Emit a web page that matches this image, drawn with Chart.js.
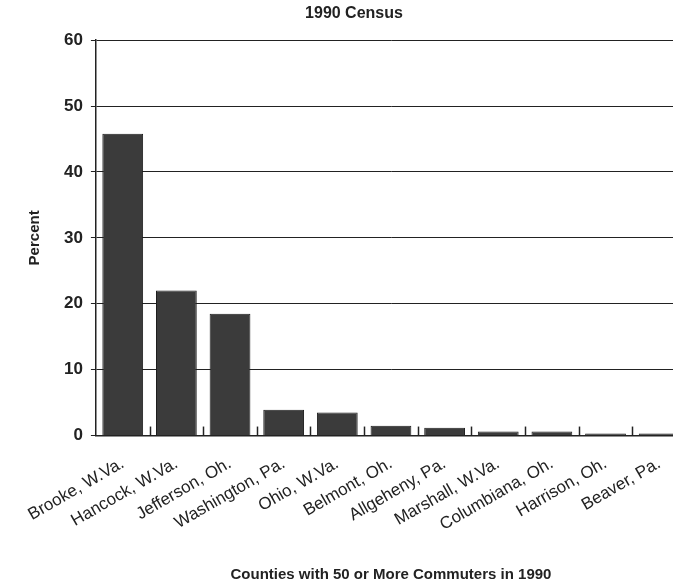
<!DOCTYPE html>
<html>
<head>
<meta charset="utf-8">
<script src="https://cdn.jsdelivr.net/npm/chart.js@4.4.0/dist/chart.umd.min.js"></script>
<style>
  html, body { margin: 0; padding: 0; background: #fff; overflow: hidden; }
  #wrap { width: 686px; height: 588px; }
</style>
</head>
<body>
<div id="wrap"><canvas id="chart" width="686" height="588"></canvas></div>
<script>
const counties = [
    'Brooke, W.Va.', 'Hancock, W.Va.', 'Jefferson, Oh.', 'Washington, Pa.',
    'Ohio, W.Va.', 'Belmont, Oh.', 'Allgeheny, Pa.', 'Marshall, W.Va.',
    'Columbiana, Oh.', 'Harrison, Oh.', 'Beaver, Pa.'
];
const percents = [45.8, 22.0, 18.5, 3.9, 3.5, 1.5, 1.2, 0.6, 0.6, 0.3, 0.3];
const yTicks = [0, 10, 20, 30, 40, 50, 60];

const ink = '#222';
const fontOf = (size, weight) => ({ family: '"Liberation Sans", Arial, sans-serif', size: size, weight: weight });

// small tick marks pointing up from the x axis, between the bars
const innerTicks = {
    id: 'innerTicks',
    afterDatasetsDraw(chart) {
        const x = chart.scales.x;
        const ctx = chart.ctx;
        const bottom = chart.chartArea.bottom;
        ctx.save();
        ctx.strokeStyle = ink;
        ctx.lineWidth = 1.5;
        for (let i = 0; i < counties.length - 1; i++) {
            const px = Math.round((x.getPixelForTick(i) + x.getPixelForTick(i + 1)) / 2) + 0.5;
            ctx.beginPath();
            ctx.moveTo(px, bottom);
            ctx.lineTo(px, bottom - 9);
            ctx.stroke();
        }
        ctx.restore();
    }
};

new Chart('chart', {
    type: 'bar',
    data: {
        labels: counties,
        datasets: [{
            data: percents,
            backgroundColor: '#3b3b3b',
            borderColor: '#1e1e1e',
            borderWidth: 1,
            barPercentage: 0.76,
            categoryPercentage: 1
        }]
    },
    options: {
        responsive: false,
        animation: false,
        layout: { padding: { left: 22, right: 0, top: 2, bottom: 0 } },
        plugins: {
            legend: { display: false },
            tooltip: { enabled: false },
            title: {
                display: true,
                text: '1990 Census',
                color: ink,
                font: fontOf(16, 'bold'),
                padding: { top: 2, bottom: 17 }
            }
        },
        scales: {
            x: {
                grid: { display: false },
                border: { display: true, color: ink, width: 1.5 },
                ticks: {
                    color: ink,
                    font: fontOf(17, 'normal'),
                    maxRotation: 30,
                    minRotation: 30,
                    padding: 10
                },
                title: {
                    display: true,
                    text: 'Counties with 50 or More Commuters in 1990',
                    color: ink,
                    font: fontOf(15, 'bold'),
                    padding: { top: 21 }
                }
            },
            y: {
                min: 0,
                max: 60,
                afterBuildTicks(axis) {
                    axis.ticks = yTicks.map(v => ({ value: v }));
                },
                grid: { color: ink, lineWidth: 1, tickLength: 5 },
                border: { display: true, color: ink, width: 1.5 },
                ticks: { color: ink, font: fontOf(17, 'bold'), padding: 8 },
                title: {
                    display: true,
                    text: 'Percent',
                    color: ink,
                    font: fontOf(15, 'bold'),
                    padding: { bottom: 12 }
                }
            }
        }
    },
    plugins: [innerTicks]
});
</script>
</body>
</html>
